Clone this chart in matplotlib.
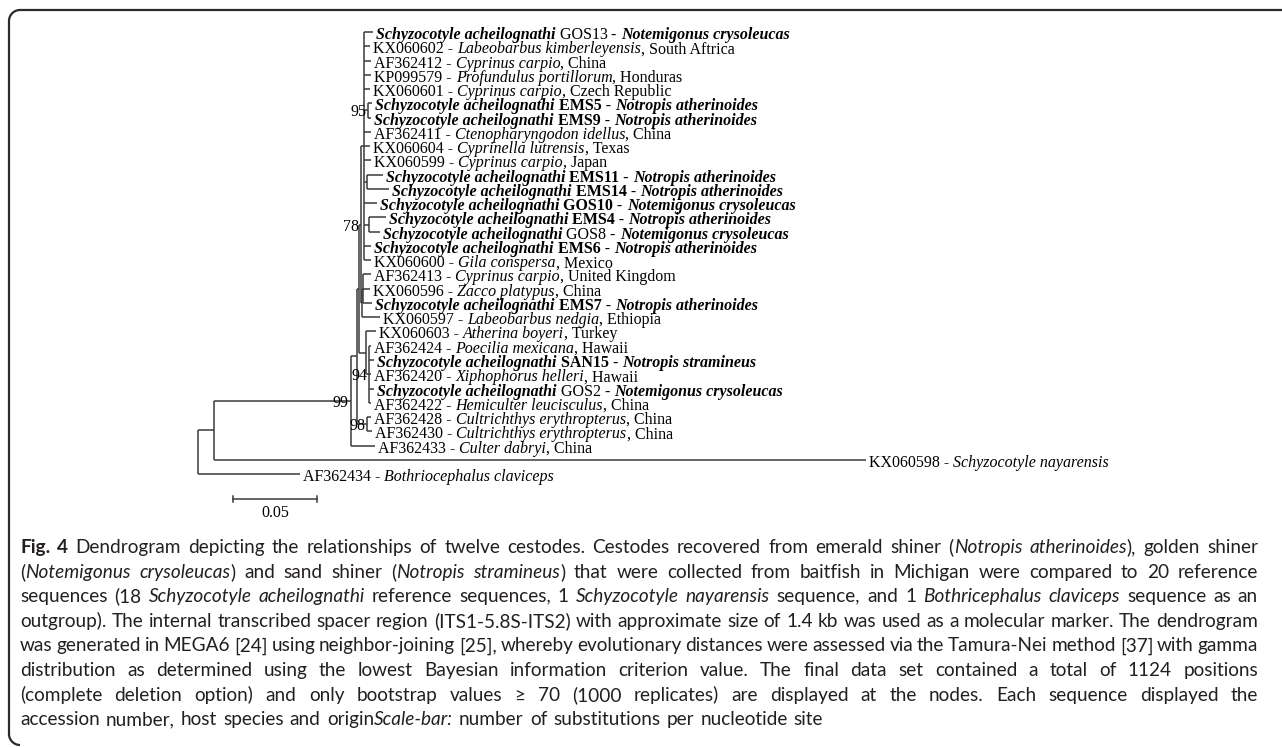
import matplotlib
matplotlib.use("Agg")
import matplotlib.pyplot as plt
from matplotlib.transforms import offset_copy
from matplotlib.font_manager import FontProperties
from matplotlib.path import Path
from matplotlib.patches import PathPatch

# ---------------- data ----------------
# Tree (neighbour-joining, branch lengths in substitutions / site, bootstrap as node labels)
NEWICK = ("(((((((GOS13:0.0054,KX060602:0.0036,AF362412:0.0042,KP099579:0.0042,KX060601:0.0036,"
          "(EMS5:0.0024,EMS9:0.0018)95:0.0024,AF362411:0.0042,KX060604:0.0036,KX060599:0.0042,"
          "(EMS11:0.0095,EMS14:0.0131):0.0018,GOS10:0.0077,(EMS4:0.0101,GOS8:0.0065):0.0030,"
          "EMS6:0.0042,KX060600:0.0042):0.0018,"
          "((AF362413:0.0048,KX060596:0.0042,EMS7:0.0054):0.0006,KX060597:0.0107):0.0006)78:0.0012,"
          "(KX060603:0.0060,(AF362424:0.0012,SAN15:0.0030,AF362420:0.0012,GOS2:0.0030,AF362422:0.0012)94:0.0018):0.0042"
          "):0.0012,(AF362428:0.0024,AF362430:0.0030)98:0.0060):0.0036,AF362433:0.0143)99:0.0815,"
          "KX060598:0.3881):0.0095,AF362434:0.0607);")

# isolates from this study: code -> (code shown bold?, host)
ISOLATES = {
    "GOS13": (False, "Notemigonus crysoleucas"),
    "EMS5": (True, "Notropis atherinoides"),
    "EMS9": (True, "Notropis atherinoides"),
    "EMS11": (True, "Notropis atherinoides"),
    "EMS14": (True, "Notropis atherinoides"),
    "GOS10": (True, "Notemigonus crysoleucas"),
    "EMS4": (True, "Notropis atherinoides"),
    "GOS8": (False, "Notemigonus crysoleucas"),
    "EMS6": (True, "Notropis atherinoides"),
    "EMS7": (True, "Notropis atherinoides"),
    "SAN15": (True, "Notropis stramineus"),
    "GOS2": (False, "Notemigonus crysoleucas"),
}
ISOLATE_SPECIES = "Schyzocotyle acheilognathi"

# reference sequences: accession -> (species, origin)
REFERENCES = {
    "KX060602": ("Labeobarbus kimberleyensis", "South Aftrica"),
    "AF362412": ("Cyprinus carpio", "China"),
    "KP099579": ("Profundulus portillorum", "Honduras"),
    "KX060601": ("Cyprinus carpio", "Czech Republic"),
    "AF362411": ("Ctenopharyngodon idellus", "China"),
    "KX060604": ("Cyprinella lutrensis", "Texas"),
    "KX060599": ("Cyprinus carpio", "Japan"),
    "KX060600": ("Gila conspersa", "Mexico"),
    "AF362413": ("Cyprinus carpio", "United Kingdom"),
    "KX060596": ("Zacco platypus", "China"),
    "KX060597": ("Labeobarbus nedgia", "Ethiopia"),
    "KX060603": ("Atherina boyeri", "Turkey"),
    "AF362424": ("Poecilia mexicana", "Hawaii"),
    "AF362420": ("Xiphophorus helleri", "Hawaii"),
    "AF362422": ("Hemiculter leucisculus", "China"),
    "AF362428": ("Cultrichthys erythropterus", "China"),
    "AF362430": ("Cultrichthys erythropterus", "China"),
    "AF362433": ("Culter dabryi", "China"),
    "KX060598": ("Schyzocotyle nayarensis", None),
    "AF362434": ("Bothriocephalus claviceps", None),
}

SCALE_LENGTH = 0.05
SCALE_LABEL = "0.05"

CAPTION = [
    "**Fig. 4** Dendrogram depicting the relationships of twelve cestodes. Cestodes recovered from emerald shiner (*Notropis atherinoides*), golden shiner",
    "(*Notemigonus crysoleucas*) and sand shiner (*Notropis stramineus*) that were collected from baitfish in Michigan were compared to 20 reference",
    "sequences (18 *Schyzocotyle acheilognathi* reference sequences, 1 *Schyzocotyle nayarensis* sequence, and 1 *Bothricephalus claviceps* sequence as an",
    "outgroup). The internal transcribed spacer region (ITS1-5.8S-ITS2) with approximate size of 1.4 kb was used as a molecular marker. The dendrogram",
    "was generated in MEGA6 [24] using neighbor-joining [25], whereby evolutionary distances were assessed via the Tamura-Nei method [37] with gamma",
    "distribution as determined using the lowest Bayesian information criterion value. The final data set contained a total of 1124 positions",
    "(complete deletion option) and only bootstrap values \u2265 70 (1000 replicates) are displayed at the nodes. Each sequence displayed the",
    "accession number, host species and origin*Scale-bar:* number of substitutions per nucleotide site",
]

# ---------------- layout / style ----------------
W, H, DPI = 1282, 747, 100
ROOT_PX, PX_PER_UNIT = 198.0, 1680.0
ROW0_PX, ROW_PX = 32.0, 14.26
LINE_COLOR = "#3a3a3a"
SERIF = "Liberation Serif"
TIP_SIZE = 11.5
CAP_FAMILY = ["Lato", "DejaVu Sans"]
CAP_SIZE = 13.7
CAP_COLOR = "#231f20"
CAP_LEFT, CAP_RIGHT, CAP_TOP, CAP_STEP = 20.0, 1258.0, 546.0, 24.6

fig = plt.figure(figsize=(W / DPI, H / DPI), dpi=DPI)
ax = fig.add_axes([0, 0, 1, 1])
ax.set_xlim(-ROOT_PX / PX_PER_UNIT, (W - ROOT_PX) / PX_PER_UNIT)
ax.set_ylim((H - ROW0_PX) / ROW_PX, -ROW0_PX / ROW_PX)
ax.axis("off")
renderer = fig.canvas.get_renderer()


def fp(style, family=SERIF, size=TIP_SIZE):
    return FontProperties(family=family, size=size,
                          weight="bold" if "b" in style else "normal",
                          style="italic" if "i" in style else "normal")


def adv(s, prop):
    w1 = renderer.get_text_width_height_descent("x" + s + "x", prop, ismath=False)[0]
    w0 = renderer.get_text_width_height_descent("xx", prop, ismath=False)[0]
    return w1 - w0


# ---------------- parse tree ----------------
def parse(s):
    pos = 0

    def node():
        nonlocal pos
        n = {"children": [], "name": "", "len": 0.0}
        if s[pos] == "(":
            pos += 1
            while True:
                n["children"].append(node())
                if s[pos] == ",":
                    pos += 1
                    continue
                if s[pos] == ")":
                    pos += 1
                    break
                raise ValueError("bad newick at %d" % pos)
        st = pos
        while pos < len(s) and s[pos] not in ",():;":
            pos += 1
        n["name"] = s[st:pos]
        if pos < len(s) and s[pos] == ":":
            pos += 1
            st = pos
            while s[pos] not in ",();":
                pos += 1
            n["len"] = float(s[st:pos])
        return n

    return node()


tree = parse(NEWICK)
tips = []


def layout(n, x0):
    n["x"] = x0 + n["len"]
    if n["children"]:
        for c in n["children"]:
            layout(c, n["x"])
        n["y"] = (n["children"][0]["y"] + n["children"][-1]["y"]) / 2.0
    else:
        n["y"] = float(len(tips))
        tips.append(n)


tree["len"] = 0.0
layout(tree, 0.0)

segs = []


def collect(n, parent_x=None):
    if parent_x is not None:
        segs.append(((parent_x, n["y"]), (n["x"], n["y"])))
    if n["children"]:
        segs.append(((n["x"], n["children"][0]["y"]), (n["x"], n["children"][-1]["y"])))
        for c in n["children"]:
            collect(c, n["x"])


collect(tree)
for (xa, ya), (xb, yb) in segs:
    ax.plot([xa, xb], [ya, yb], color=LINE_COLOR, lw=1.1, solid_capstyle="butt")


# bootstrap labels
def boots(n):
    if n["children"]:
        if n["name"]:
            ax.text(n["x"], n["y"], n["name"], ha="right", va="center",
                    fontproperties=fp("r"), color="black",
                    transform=offset_copy(ax.transData, fig=fig, x=-2, y=-2, units="dots"))
        for c in n["children"]:
            boots(c)


boots(tree)


# tip labels
def runs_for(name):
    if name in ISOLATES:
        bold_code, host = ISOLATES[name]
        if bold_code:
            return [(ISOLATE_SPECIES, "bi"), (" " + name + " - ", "b"), (host, "bi")]
        return [(ISOLATE_SPECIES, "bi"), (" " + name, "r"), (" - ", "b"), (host, "bi")]
    sp, org = REFERENCES[name]
    r = [(name + " - ", "r"), (sp, "i")]
    if org:
        r.append((", " + org, "r"))
    return r


for t in tips:
    dx = 3.0
    for text, style in runs_for(t["name"]):
        prop = fp(style)
        ax.text(t["x"], t["y"], text, ha="left", va="center_baseline", fontproperties=prop,
                color="black",
                transform=offset_copy(ax.transData, fig=fig, x=dx, y=-1, units="dots"))
        dx += adv(text, prop)

# scale bar
SB_X0 = (233 - ROOT_PX) / PX_PER_UNIT
SB_ROW = (499 - ROW0_PX) / ROW_PX
ax.plot([SB_X0, SB_X0 + SCALE_LENGTH], [SB_ROW, SB_ROW], color=LINE_COLOR, lw=1.1)
for xe in (SB_X0, SB_X0 + SCALE_LENGTH):
    ax.plot([xe, xe], [SB_ROW - 0.22, SB_ROW + 0.22], color=LINE_COLOR, lw=1.1)
ax.text(SB_X0 + SCALE_LENGTH / 2, SB_ROW + 1.0, SCALE_LABEL, ha="center", va="center",
        fontproperties=fp("r"), color="black")


# ---------------- caption ----------------
def parse_markup(line):
    words, cur, buf = [], [], ""
    bold = ital = False
    i = 0

    def style():
        return ("b" if bold else "") + ("i" if ital else "") or "r"

    while i < len(line):
        if line.startswith("**", i):
            if buf:
                cur.append((buf, style()))
                buf = ""
            bold = not bold
            i += 2
            continue
        ch = line[i]
        if ch == "*":
            if buf:
                cur.append((buf, style()))
                buf = ""
            ital = not ital
        elif ch == " ":
            if buf:
                cur.append((buf, style()))
                buf = ""
            if cur:
                words.append(cur)
            cur = []
        else:
            buf += ch
        i += 1
    if buf:
        cur.append((buf, style()))
    if cur:
        words.append(cur)
    return words


space_w = adv(" ", fp("r", CAP_FAMILY, CAP_SIZE))
for li, line in enumerate(CAPTION):
    words = parse_markup(line)
    widths = [sum(adv(t, fp(s, CAP_FAMILY, CAP_SIZE)) for t, s in w) for w in words]
    justify = li < len(CAPTION) - 1
    if justify and len(words) > 1:
        gap = (CAP_RIGHT - CAP_LEFT - sum(widths)) / (len(words) - 1)
        gap = max(gap, space_w * 0.6)
    else:
        gap = space_w * 1.25
    x = CAP_LEFT
    yb = H - (CAP_TOP + li * CAP_STEP)
    for w, wd in zip(words, widths):
        xx = x
        for t, s in w:
            prop = fp(s, CAP_FAMILY, CAP_SIZE)
            fig.text(xx / W, yb / H, t, ha="left", va="center_baseline",
                     fontproperties=prop, color=CAP_COLOR)
            xx += adv(t, prop)
        x += wd + gap

# ---------------- frame ----------------
r = 11.0
fx, fy_top, fy_bot = 9.0, 10.0, 745.0
k = 0.5523 * r
verts = [(W, fy_top), (fx + r, fy_top),
         (fx + r - k, fy_top), (fx, fy_top + r - k), (fx, fy_top + r),
         (fx, fy_bot - r),
         (fx, fy_bot - r + k), (fx + r - k, fy_bot), (fx + r, fy_bot)]
codes = [Path.MOVETO, Path.LINETO, Path.CURVE4, Path.CURVE4, Path.CURVE4,
         Path.LINETO, Path.CURVE4, Path.CURVE4, Path.CURVE4]
verts = [(vx / W, 1 - vy / H) for vx, vy in verts]
fig.add_artist(PathPatch(Path(verts, codes), transform=fig.transFigure, fill=False,
                         edgecolor="#2b2b2b", lw=1.6))

fig.savefig("out.png", dpi=DPI)
